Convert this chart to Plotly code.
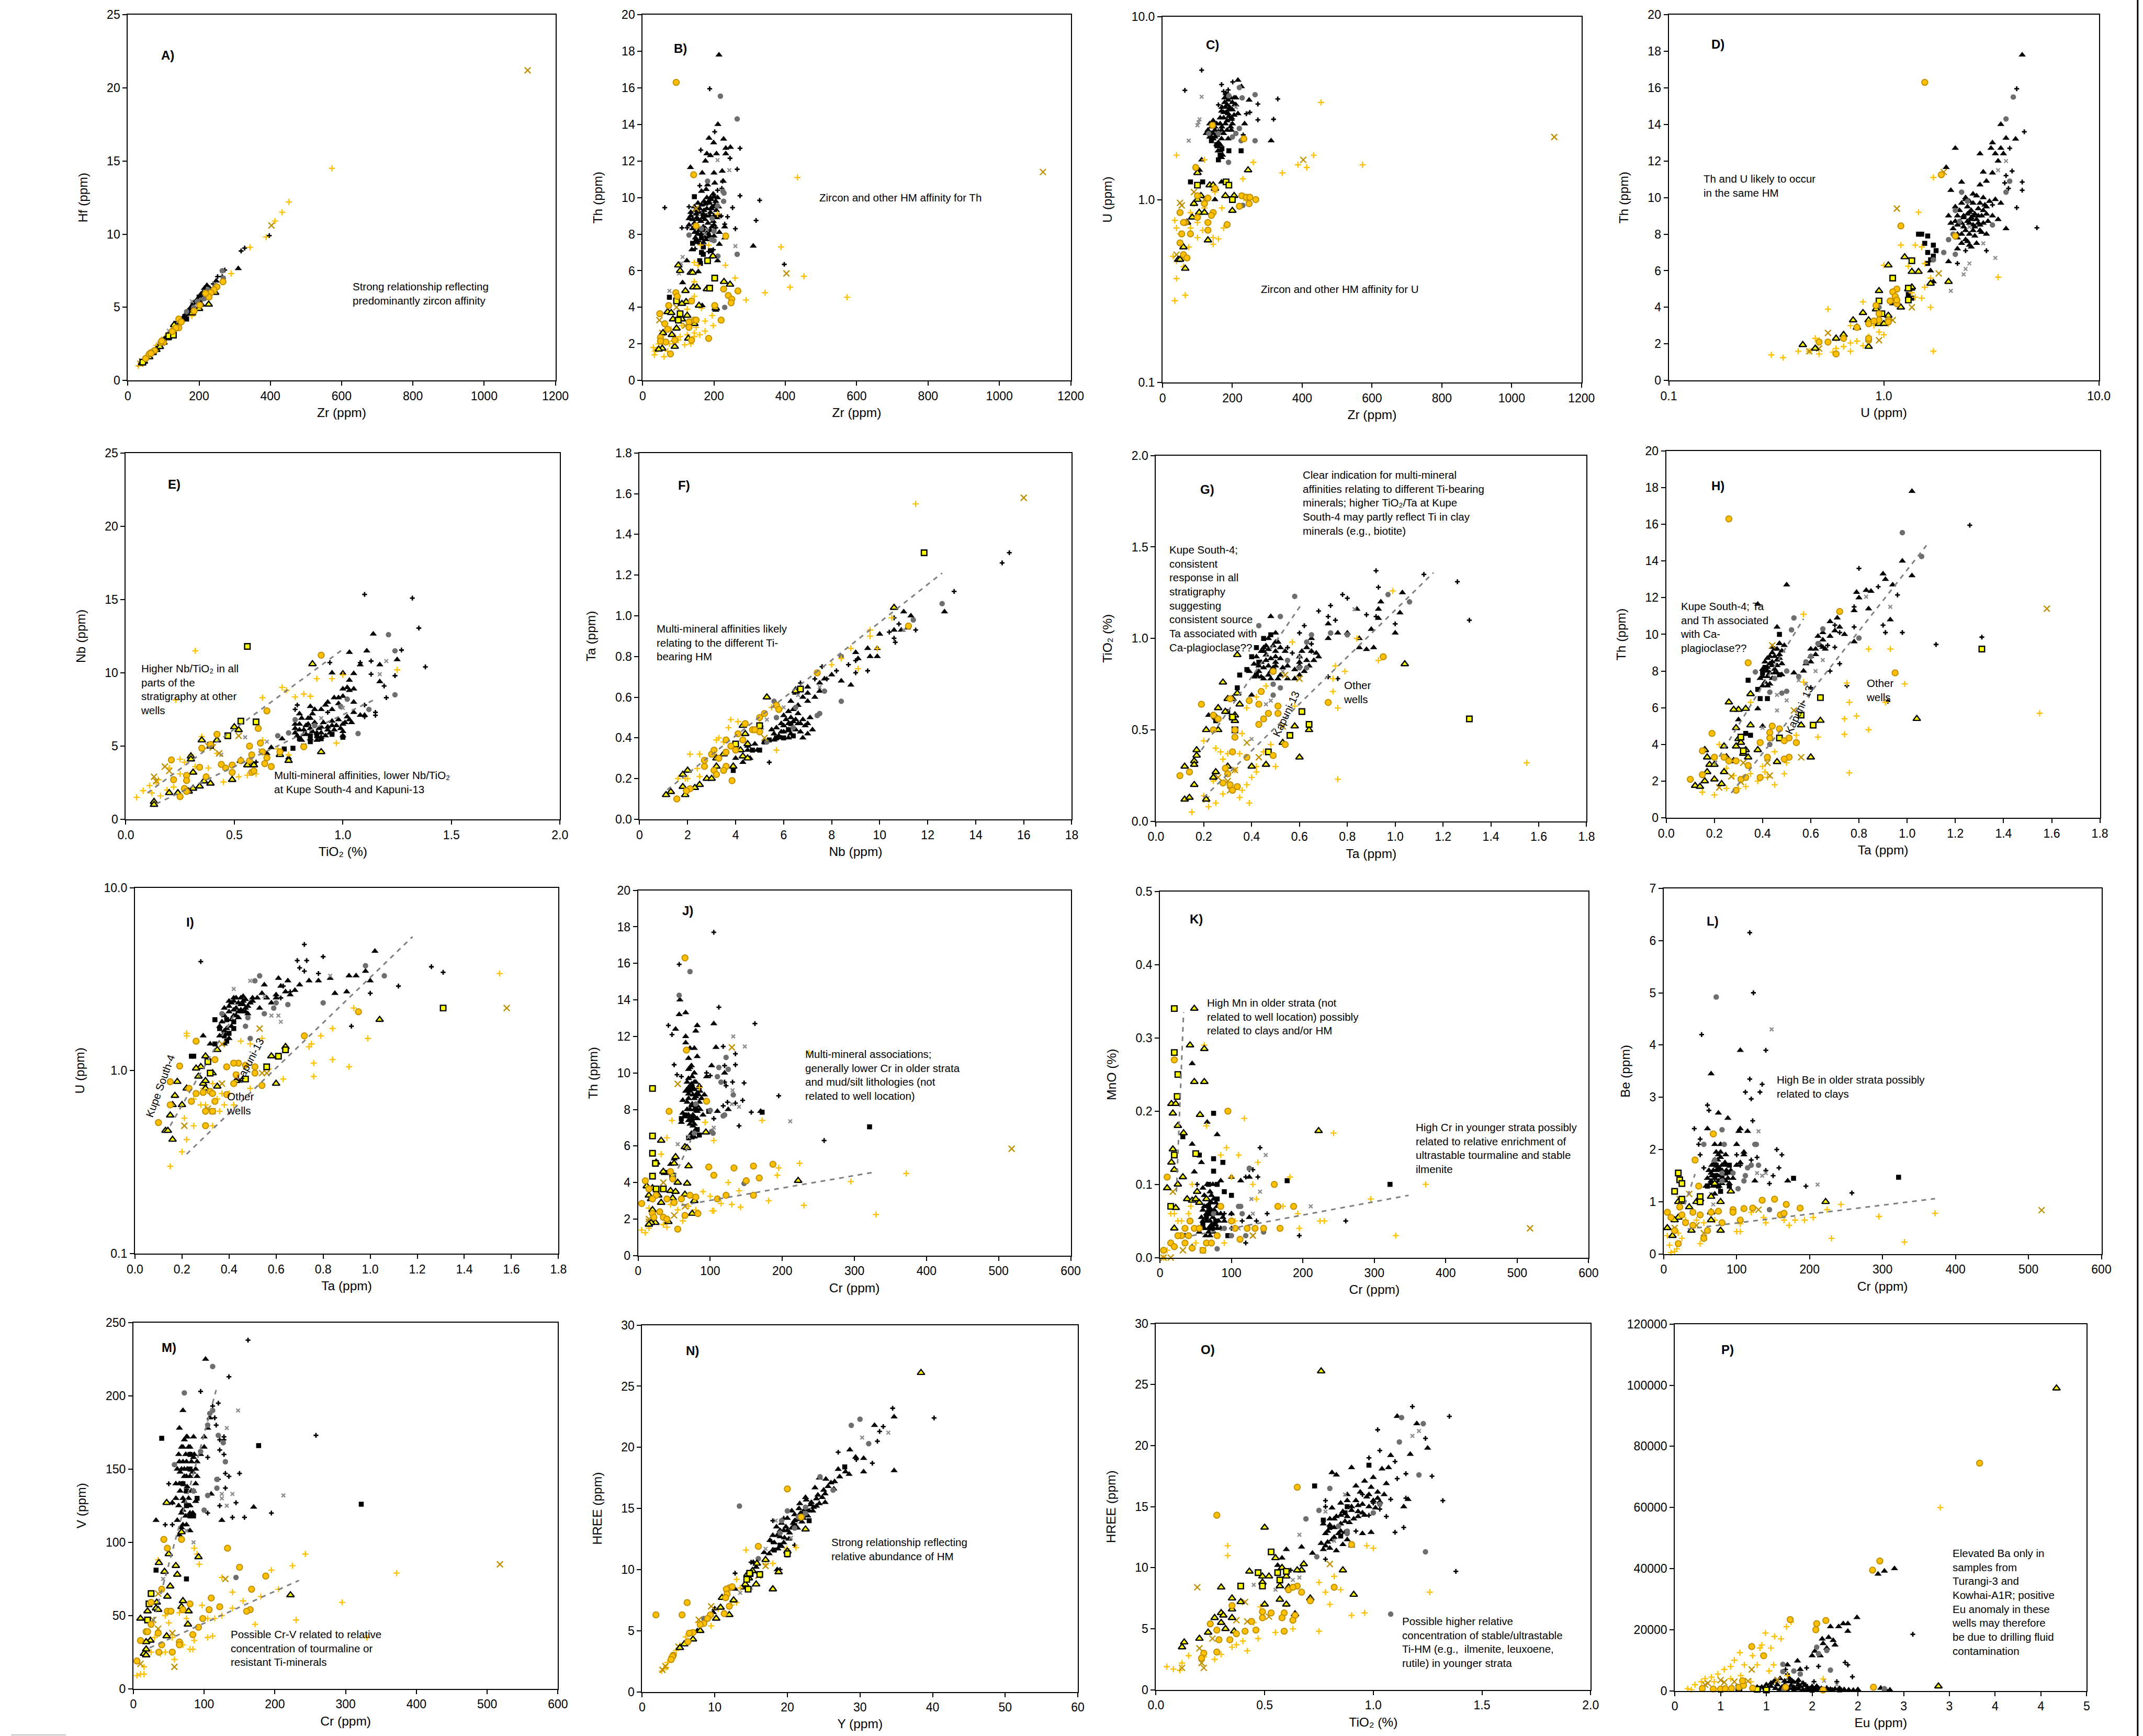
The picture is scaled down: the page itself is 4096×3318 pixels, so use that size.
import plotly.graph_objects as go

# ---------- values: (x, y) per panel and per series ----------
A_tri=[(310,7.65),(222,6.5),(248,6.8),(215,6.3),(205,5.9),(200,5.7),(190,5.4),(180,5.1),(170,4.8),(160,4.4),(150,4.1),(140,3.9),(130,3.6),(120,3.3),(110,3.0),(100,2.8),(90,2.5),(185,5.3),(175,4.9),(165,4.6),(155,4.3),(145,4.0),(135,3.8),(125,3.5),(195,5.5),(210,6.0),(230,6.3)]
A_tri2=[(85,2.35),(95,2.65),(105,2.9),(115,3.15),(125,3.4),(135,3.7),(145,4.05),(155,4.25),(165,4.5),(175,4.75),(185,5.05),(195,5.3),(205,5.6),(215,5.8),(225,6.1)]
A_sq=[(165,4.2),(135,3.9),(115,3.0),(85,2.3),(70,1.9),(200,5.7),(150,4.2)]
A_pl=[(397,9.9),(328,9.05),(318,8.85),(272,7.55),(252,7.1),(265,7.1),(180,5.0),(160,4.5),(240,6.6)]
A_gc=[(265,7.5),(268,7.0),(215,5.6),(205,5.5),(195,5.4),(185,5.0),(165,4.7),(225,6.2)]
A_gx=[(180,5.4),(115,3.4),(140,4.0),(245,6.6)]
A_op=[(573,14.5),(452,12.2),(433,11.5),(413,10.9),(388,9.8),(343,9.1),(290,7.3),(30,1.0),(50,1.6),(80,2.4),(110,3.1),(180,4.4),(60,1.8),(95,2.8),(38,1.2)]
A_dx=[(1122,21.2),(403,10.6),(40,1.3),(35,1.15)]
A_yt=[(227,5.2),(245,6.0),(205,5.2),(180,4.6),(125,3.1),(130,3.8),(112,2.9),(100,2.6),(80,2.1),(60,1.6),(45,1.3),(40,1.2),(90,2.3),(70,1.9),(200,4.9)]
A_ys=[(42,1.25),(115,3.05),(128,3.1)]
A_oc=[(267,6.75),(250,6.4),(242,6.2),(233,6.0),(228,5.7),(218,5.95),(202,5.15),(186,4.75),(143,4.2),(150,4.0),(143,3.6),(130,3.5),(135,3.6),(125,3.35),(100,2.6),(93,2.6),(75,2.05),(65,1.9),(60,1.8),(50,1.5),(95,2.7),(65,1.85)]

B_tri=[(214,17.8),(211,14.0),(186,13.25),(227,13.2),(199,13.0),(233,12.7),(246,12.75),(180,12.4),(190,12.3),(207,12.4),(233,12.4),(176,12.0),(134,11.65),(167,11.35),(200,11.35),(223,11.45),(226,10.9),(202,10.8),(182,10.7),(178,10.45),(165,10.35),(200,10.05),(190,10.0),(210,10.0),(187,9.7),(175,9.65),(145,9.5),(160,9.4),(180,9.4),(195,9.5),(207,9.3),(135,9.2),(150,9.1),(170,9.1),(190,9.2),(130,8.85),(155,8.8),(175,8.8),(200,9.0),(215,9.0),(145,8.6),(170,8.4),(230,8.4),(130,8.5),(190,8.2),(215,8.1),(230,7.8),(200,7.9),(155,8.0),(165,7.75),(170,7.55),(138,7.15),(215,7.45),(310,7.35),(124,6.55),(210,6.55),(156,5.95),(112,5.35),(167,4.1),(205,3.85)]
B_tri2=[(135,9.0),(140,8.8),(148,9.3),(152,8.9),(158,9.2),(163,8.7),(168,8.9),(172,9.3),(178,9.0),(183,8.6),(188,9.0),(193,9.4),(198,8.7),(203,9.6),(208,8.9),(140,8.3),(146,8.1),(152,8.4),(158,8.2),(164,8.0),(170,8.2),(176,8.3),(182,8.1),(188,7.9),(194,8.4),(200,8.5),(148,7.8),(155,7.6),(162,7.5),(172,7.9),(178,7.7),(185,9.8),(192,9.9),(198,10.2),(205,9.8),(180,10.0),(172,9.8),(165,9.6),(155,9.7),(213,9.5)]
B_sq=[(145,10.05),(180,7.9),(165,7.8),(150,7.6),(140,7.5),(170,7.3),(190,7.1),(165,7.0),(170,6.9),(160,6.55),(162,6.4),(75,4.55)]
B_pl=[(188,15.95),(202,13.6),(163,12.6),(273,12.7),(245,12.15),(265,11.55),(224,10.9),(160,10.65),(210,10.4),(222,10.5),(273,10.1),(62,9.45),(252,9.45),(328,9.85),(318,8.75),(220,9.0),(238,8.95),(230,8.55),(260,8.3),(110,8.35),(125,8.35),(205,8.35),(185,7.05),(198,7.15),(147,7.2),(397,6.35),(170,9.0),(130,9.5)]
B_gc=[(218,15.55),(265,14.3),(182,10.9),(225,10.35),(228,10.25),(227,9.8),(210,9.55),(195,8.85),(130,7.95),(165,8.3),(200,8.15),(193,7.7),(200,7.65),(196,6.8),(211,6.8),(265,6.9),(230,4.0)]
B_gx=[(210,12.05),(243,11.5),(260,7.35),(112,6.75),(108,6.4),(102,5.85),(75,4.9),(180,8.25),(175,8.0)]
B_op=[(434,11.1),(388,7.3),(452,5.7),(413,5.1),(343,4.8),(290,4.4),(573,4.55),(259,5.6),(232,6.3),(145,6.45),(155,6.3),(162,7.4),(185,7.4),(210,9.1),(145,5.4),(145,4.6),(125,3.9),(165,3.95),(195,3.55),(175,3.25),(198,3.0),(175,2.7),(145,2.6),(160,2.5),(145,2.4),(125,2.5),(105,2.4),(135,2.0),(118,1.95),(100,2.2),(85,2.15),(185,2.3),(150,2.9),(110,3.0),(75,2.0),(60,1.3),(33,1.4),(40,1.7),(30,1.8),(45,2.0),(35,1.6),(70,1.6),(55,2.1),(80,2.8),(90,2.4)]
B_dx=[(1122,11.4),(403,5.85),(150,9.4),(47,3.3),(95,4.0),(55,2.6),(120,3.0)]
B_yt=[(197,6.8),(100,6.3),(105,6.0),(135,5.9),(140,5.9),(228,5.4),(245,5.25),(120,4.9),(142,5.1),(152,5.1),(180,5.0),(158,4.1),(122,4.3),(110,4.2),(205,3.95),(70,3.75),(80,3.7),(125,3.55),(85,3.35),(100,3.4),(110,3.35),(95,2.85),(82,2.5),(57,2.6),(128,2.3),(90,1.85),(55,1.75),(45,1.7),(145,3.1)]
B_ys=[(182,6.55),(202,5.6),(188,5.05),(95,4.35),(105,3.65),(100,3.3)]
B_oc=[(94,16.3),(143,11.25),(150,8.45),(233,7.9),(227,5.0),(267,4.9),(240,4.65),(250,4.45),(248,4.25),(202,4.1),(137,4.35),(93,4.8),(97,4.6),(73,4.1),(48,3.65),(62,3.1),(130,3.2),(145,3.3),(150,3.3),(220,3.3),(130,2.9),(70,2.8),(50,2.35),(185,2.3),(137,2.2),(90,2.2),(65,2.1),(50,2.15),(78,1.45)]

C_tri=[(216,4.5),(226,4.15),(248,3.5),(188,3.75),(178,3.4),(207,3.3),(169,3.05),(188,2.95),(216,2.95),(197,2.75),(235,2.6),(150,2.5),(131,2.35),(169,2.4),(197,2.4),(140,2.2),(169,2.15),(311,2.1),(188,2.15),(159,1.85),(112,1.65),(169,1.7),(106,1.45),(169,1.25),(150,1.0),(112,1.05),(180,3.2),(190,3.1),(200,3.4),(165,2.6),(175,2.8),(145,2.3),(155,2.25),(185,2.7),(210,3.6),(195,2.5),(140,2.5),(160,2.05),(200,2.6)]
C_tri2=[(130,2.4),(135,2.6),(140,2.3),(145,2.7),(150,2.4),(155,2.6),(160,2.35),(165,2.8),(170,2.5),(175,3.0),(180,2.6),(185,3.3),(190,2.85),(195,3.6),(200,3.1),(205,2.9),(210,3.3),(145,2.15),(155,2.0),(165,2.0),(175,2.3),(185,2.4),(170,3.2),(178,3.6),(182,3.0),(192,3.2),(198,2.8),(150,2.2),(158,1.95),(165,1.85),(172,1.75),(135,2.2),(125,2.3),(205,3.6),(188,3.5),(182,3.8)]
C_sq=[(190,1.85),(170,1.9),(165,1.75),(160,1.65),(225,1.85),(115,1.25),(155,2.0),(140,2.1),(80,1.25)]
C_pl=[(112,5.1),(64,3.96),(169,4.26),(201,4.4),(188,3.98),(330,3.55),(273,3.33),(250,3.0),(273,2.73),(318,2.75),(231,2.26),(175,3.9),(160,3.3),(240,2.95)]
C_gc=[(220,4.1),(265,3.75),(228,3.6),(190,3.7),(220,2.45),(225,2.1),(210,2.3),(132,2.3),(200,2.2),(189,1.6),(230,0.93),(265,2.1),(160,2.3)]
C_gx=[(112,3.65),(106,2.75),(100,2.55),(75,2.1),(103,2.65),(210,3.2)]
C_op=[(454,3.4),(433,1.75),(573,1.55),(343,1.4),(388,1.55),(413,1.5),(40,1.75),(120,1.65),(260,1.6),(240,0.99),(230,1.3),(180,1.05),(35,0.77),(40,0.7),(175,0.7),(160,0.61),(40,0.46),(40,0.37),(60,0.43),(100,0.62),(145,0.62),(145,0.57),(30,0.49),(65,0.3),(35,0.28),(50,0.65),(80,0.7),(100,0.75),(115,0.68),(80,0.85),(150,1.1),(120,0.9),(60,0.48),(75,0.55),(90,0.95),(170,0.9)]
C_dx=[(1122,2.2),(403,1.65),(50,0.96),(40,0.5),(90,1.1),(120,1.0),(55,0.93)]
C_yt=[(100,1.4),(245,1.45),(135,1.2),(145,1.2),(205,1.05),(180,1.05),(110,1.05),(200,0.87),(150,1.15),(90,0.95),(105,0.85),(120,0.85),(85,0.8),(70,0.75),(130,0.6),(60,0.55),(45,0.47),(50,0.47),(65,0.42),(100,1.0)]
C_ys=[(182,1.25),(190,1.2),(100,1.2),(200,1.0)]
C_oc=[(143,2.55),(233,2.15),(95,1.5),(150,1.15),(227,1.05),(240,1.03),(250,1.03),(267,1.0),(248,0.95),(220,0.92),(130,1.02),(100,1.05),(145,0.85),(140,0.82),(130,0.75),(185,0.73),(50,0.85),(65,0.75),(130,0.68),(55,0.65),(80,0.65),(50,0.58),(60,0.5),(70,0.48),(60,0.75),(100,0.8),(120,0.95)]

D_tri=[(4.4,17.8),(3.5,14),(3.7,13.25),(4.1,13.2),(3.2,13.0),(2.15,12.7),(3.5,12.7),(3.15,12.7),(2.8,12.4),(3.3,12.4),(3.6,12.4),(3.4,12.0),(1.95,11.65),(2.9,11.4),(3.2,11.35),(2.3,10.85),(2.8,10.7),(3.0,10.9),(2.05,10.4),(2.4,10.0),(2.9,10.0),(3.3,9.9),(2.15,9.5),(2.6,9.7),(3.0,9.5),(3.5,9.7),(2.5,9.2),(2.9,9.3),(2.0,9.0),(2.2,9.0),(2.6,9.0),(3.2,9.0),(2.2,8.5),(2.5,8.6),(2.8,8.5),(3.4,8.8),(2.3,8.0),(2.6,8.2),(3.0,8.0),(3.7,8.3),(2.4,7.7),(2.7,7.5),(2.2,7.2),(2.5,7.4),(2.0,6.5),(1.65,6.0),(1.7,5.4),(1.35,5.0),(1.2,4.0),(1.1,4.2),(2.55,8.9),(2.35,8.4),(2.45,9.5),(2.75,9.0)]
D_tri2=[(2.1,8.3),(2.2,8.0),(2.3,8.6),(2.35,9.0),(2.4,8.2),(2.45,8.7),(2.5,8.0),(2.55,9.3),(2.6,8.5),(2.65,7.9),(2.7,8.8),(2.75,9.4),(2.8,8.2),(2.85,9.0),(2.9,8.6),(2.95,9.6),(3.0,9.1),(3.05,8.7),(3.1,9.8),(2.25,9.3),(2.3,9.7),(2.4,9.9),(2.5,9.8),(2.6,10.2),(2.7,10.1),(2.8,9.7),(2.2,7.8),(2.3,7.5),(2.45,7.6),(2.55,7.3),(2.65,8.4),(2.35,8.9),(2.45,9.1),(2.55,8.8),(2.65,9.1),(2.75,8.6),(2.85,8.1),(2.15,8.7),(2.05,8.6)]
D_sq=[(1.75,7.1),(1.5,8.0),(1.55,7.5),(1.6,7.0),(1.7,6.8),(1.65,6.6),(1.6,6.4),(1.7,7.4),(1.6,7.9),(1.45,8.0),(1.3,4.7),(1.35,4.5)]
D_pl=[(4.15,15.95),(4.5,13.6),(3.85,12.7),(3.95,11.45),(4.4,10.85),(3.7,11.2),(4.4,10.4),(3.65,10.8),(4.15,9.45),(5.15,8.35),(2.2,6.4),(3.0,7.1),(2.4,7.1),(3.8,10.5),(3.2,9.6)]
D_gc=[(4.0,15.5),(3.7,14.3),(3.85,10.9),(3.7,10.3),(2.3,10.3),(2.45,9.8),(2.15,9.3),(3.2,8.5),(2.1,8.0),(2.0,7.7),(1.9,7.0),(2.15,6.9),(2.25,8.7),(0.95,4.0),(1.7,6.6)]
D_gx=[(3.7,12.0),(3.4,11.5),(3.3,6.7),(2.5,6.4),(2.4,6.1),(2.35,5.8),(2.05,4.9),(2.9,7.5),(2.5,8.4)]
D_op=[(1.7,11.1),(1.45,9.2),(1.2,7.4),(1.4,7.4),(1.5,7.3),(1.0,6.3),(1.3,6.25),(1.55,6.4),(3.4,5.65),(1.65,5.6),(1.55,5.1),(1.35,4.8),(1.5,4.5),(1.4,4.55),(1.65,4.0),(0.55,3.9),(0.8,4.3),(1.7,1.6),(0.3,1.4),(0.34,1.25),(0.4,1.6),(0.45,1.6),(0.7,3.0),(0.95,2.65),(1.0,2.5),(0.85,2.4),(0.6,2.3),(0.5,2.2),(0.55,2.1),(0.7,2.05),(0.75,2.15),(0.65,1.85),(0.6,1.75),(0.7,1.6),(0.5,1.45),(0.8,1.9),(0.48,2.3),(0.58,1.55),(0.9,3.0),(1.05,3.1)]
D_dx=[(1.15,9.4),(1.9,11.4),(1.8,5.85),(1.35,4.0),(1.1,3.3),(0.5,1.75),(0.95,2.2),(0.45,1.6),(0.55,2.6)]
D_yt=[(1.25,6.75),(1.05,6.3),(1.35,5.95),(1.45,5.95),(1.35,5.1),(1.3,5.0),(2.0,5.4),(1.65,5.3),(0.95,4.9),(1.2,4.0),(1.1,4.3),(0.92,3.9),(0.8,3.7),(1.05,3.55),(0.85,3.3),(0.95,3.1),(1.0,3.1),(0.72,3.3),(0.75,2.9),(0.65,2.5),(0.6,2.3),(0.42,1.95),(0.48,1.75),(0.85,1.85)]
D_ys=[(1.35,6.55),(1.1,5.6),(1.3,4.4),(0.95,4.35),(0.98,3.65),(1.3,5.05)]
D_oc=[(1.55,16.3),(1.85,11.25),(1.2,8.45),(2.15,7.9),(1.15,5.0),(1.1,4.85),(1.13,4.6),(1.07,4.35),(1.15,4.2),(1.15,4.4),(0.92,4.1),(0.95,3.65),(0.85,3.1),(0.95,3.3),(1.05,3.3),(0.9,3.25),(1.05,3.2),(0.75,2.9),(0.85,2.2),(0.85,2.3),(0.5,2.1),(0.55,2.1),(0.65,2.3),(0.6,1.45)]

E_tri=[(1.14,12.65),(1.03,11.4),(1.11,11.5),(1.25,10.9),(1.17,10.55),(1.08,10.55),(1.0,10.0),(0.95,10.0),(1.05,9.95),(1.03,9.5),(1.17,9.4),(1.02,9.0),(1.05,8.9),(1.0,8.9),(0.98,8.3),(0.93,8.0),(0.98,7.9),(1.05,8.0),(0.85,7.7),(0.87,7.5),(0.8,7.2),(0.78,6.5),(0.83,6.4),(0.8,6.1),(0.85,6.2),(0.9,6.3),(0.95,6.4),(1.0,6.5),(0.78,5.9),(0.82,5.8),(0.88,5.9),(0.93,6.1),(1.03,6.8),(1.1,7.1),(1.0,6.0),(0.9,5.6),(0.72,5.5),(0.67,4.9),(0.65,4.5),(1.0,5.7),(0.85,6.9),(0.9,7.5),(0.95,7.5),(0.75,4.2)]
E_tri2=[(0.78,6.2),(0.79,5.7),(0.8,6.5),(0.81,5.4),(0.82,6.1),(0.83,5.8),(0.84,6.5),(0.85,5.5),(0.86,6.0),(0.87,6.6),(0.88,5.4),(0.89,6.2),(0.9,5.9),(0.91,6.6),(0.92,5.7),(0.93,6.3),(0.94,5.9),(0.95,6.7),(0.96,6.1),(0.97,6.4),(0.98,6.8),(0.99,6.2),(1.01,6.6),(1.02,7.0),(1.04,6.6),(1.05,7.3),(1.08,7.1),(0.86,7.2),(0.92,7.8),(0.96,8.3),(1.0,8.4),(1.03,8.8),(0.84,6.9),(0.81,6.9)]
E_sq=[(0.9,5.5),(0.85,5.3),(0.82,5.0),(0.77,4.85),(0.73,4.8),(1.0,5.6),(0.95,5.8),(0.88,5.7),(0.8,5.5),(0.85,5.7)]
E_pl=[(1.1,15.35),(1.32,15.1),(1.35,13.05),(1.27,11.55),(1.38,10.4),(1.24,9.8),(1.13,9.9),(1.13,10.8),(1.08,10.7),(1.2,8.3),(1.19,9.1),(0.94,10.7),(0.79,7.8),(0.78,7.5),(0.93,7.3),(1.1,7.8),(1.15,7.3),(1.15,7.1),(1.1,7.0),(0.6,3.9)]
E_gc=[(1.21,12.6),(1.24,11.5),(1.24,8.5),(1.12,7.5),(0.99,7.7),(1.02,8.2),(1.07,5.85),(0.75,5.9),(0.78,6.8),(0.7,5.7),(0.87,6.4)]
E_gx=[(1.17,9.9),(1.2,10.8),(0.55,5.6),(0.44,4.4),(0.65,5.3),(0.62,4.7),(1.0,7.6),(0.9,6.9)]
E_op=[(0.32,11.5),(0.23,8.15),(0.63,8.3),(0.72,9.0),(0.74,8.8),(0.78,8.35),(0.82,8.55),(0.85,8.4),(0.88,9.6),(0.95,9.6),(1.0,9.85),(1.25,10.2),(0.97,5.2),(0.35,5.65),(0.4,5.1),(0.42,4.5),(0.3,4.4),(0.25,4.1),(0.27,3.9),(0.2,3.5),(0.32,3.6),(0.38,3.5),(0.25,3.1),(0.15,2.7),(0.11,2.3),(0.12,1.8),(0.08,1.95),(0.05,1.5),(0.16,1.6),(0.19,2.0),(0.22,2.2),(0.45,2.55),(0.52,2.9),(0.6,3.1),(0.56,3.0),(0.7,4.8),(0.75,4.4),(0.63,5.4),(0.14,2.5)]
E_dx=[(0.13,2.9),(0.2,3.3),(0.38,5.0),(0.4,4.9),(0.52,5.7),(0.18,3.6),(0.14,2.6),(0.43,4.5)]
E_yt=[(0.86,10.6),(0.5,6.3),(0.52,6.1),(0.35,5.4),(0.42,5.4),(0.3,4.3),(0.3,4.1),(0.31,3.2),(0.9,4.6),(0.75,4.0),(0.71,4.4),(0.28,2.0),(0.34,2.25),(0.39,2.45),(0.36,2.6),(0.2,1.8),(0.24,1.8),(0.13,1.2),(0.13,1.0),(0.53,4.0),(0.57,3.9),(0.59,3.7),(0.56,3.7),(0.49,2.7),(0.31,2.1),(0.29,1.9)]
E_ys=[(0.56,11.8),(0.53,6.7),(0.6,6.65),(0.47,5.7),(0.39,5.05)]
E_oc=[(0.9,11.2),(0.65,7.4),(0.61,6.2),(0.42,5.8),(0.35,4.85),(0.39,5.1),(0.62,5.2),(0.57,5.0),(0.57,4.0),(0.53,4.0),(0.58,4.4),(0.63,4.6),(0.71,4.6),(0.82,4.95),(0.21,4.05),(0.34,3.55),(0.44,3.75),(0.46,3.5),(0.49,3.7),(0.49,3.2),(0.58,3.2),(0.59,3.3),(0.64,3.8),(0.65,4.2),(0.67,3.6),(0.28,3.0),(0.22,2.7),(0.28,2.65),(0.37,2.9),(0.27,2.1),(0.28,1.9),(0.25,1.55)]

F_tri=[(12.7,1.02),(11,1.02),(11.3,1.0),(11.15,0.94),(10.9,0.93),(10.6,0.93),(10,0.91),(9.5,0.84),(9.9,0.84),(9.9,0.8),(9.1,0.79),(8.4,0.68),(8.8,0.66),(8.0,0.71),(7.7,0.69),(7.0,0.65),(7.5,0.63),(7.3,0.6),(7,0.58),(6.5,0.62),(6.3,0.58),(6.6,0.52),(7.1,0.5),(7.0,0.42),(6.8,0.4),(6.4,0.45),(6.2,0.47),(6.0,0.46),(6.5,0.49),(5.9,0.43),(6.2,0.4),(5.5,0.44),(5.2,0.38),(4.8,0.37),(4.5,0.34),(4.0,0.3),(6.7,0.47),(6.3,0.5),(7.0,0.47),(9.6,0.8),(9.0,0.82)]
F_tri2=[(5.6,0.42),(5.7,0.45),(5.8,0.41),(5.9,0.47),(6.0,0.43),(6.1,0.49),(6.2,0.44),(6.3,0.42),(6.4,0.48),(6.5,0.44),(6.6,0.47),(6.7,0.43),(6.8,0.49),(6.9,0.46),(7.2,0.44),(6.0,0.51),(6.2,0.53),(6.4,0.54),(6.6,0.56),(6.8,0.6),(6.5,0.64),(6.7,0.64),(7.0,0.62),(7.5,0.67),(5.9,0.4),(5.6,0.39),(4.9,0.34),(4.6,0.3),(4.3,0.28),(4.5,0.36)]
F_sq=[(6.4,0.41),(6.0,0.4),(5.4,0.39),(5.2,0.38),(5,0.34),(4.7,0.34),(3.9,0.24),(6.2,0.44),(5.7,0.4),(6.3,0.47)]
F_pl=[(15.4,1.31),(15.1,1.26),(13.1,1.12),(10.6,0.99),(10.8,0.96),(11.5,0.93),(10.6,0.89),(10.4,0.92),(9.0,0.78),(9.0,0.72),(9.5,0.73),(7.6,0.75),(8.2,0.73),(5.4,0.28),(8.7,0.76),(7.3,0.69),(7.8,0.69),(6.7,0.67),(10.65,0.87)]
F_gc=[(12.6,1.06),(11.4,0.98),(8.4,0.58),(7.5,0.52),(7.4,0.51),(8.4,0.8),(6.5,0.55),(5.3,0.38),(5.7,0.5),(6.4,0.45),(5.6,0.58),(7.7,0.63)]
F_gx=[(11,0.93),(6.6,0.61),(5.3,0.49),(6,0.55),(7.5,0.65),(5.1,0.45)]
F_op=[(11.5,1.55),(10.5,0.99),(9.6,0.93),(9.6,0.9),(8.8,0.84),(9.9,0.84),(8.4,0.79),(8.0,0.76),(9.1,0.74),(3.8,0.49),(4.1,0.48),(3.7,0.45),(3.3,0.4),(2.5,0.32),(2.1,0.32),(5.5,0.55),(5.0,0.47),(5.7,0.34),(3.1,0.32),(2.0,0.2),(1.9,0.2),(1.6,0.2),(2.4,0.25),(2.5,0.21),(3.2,0.39),(3.5,0.38)]
F_dx=[(16,1.58),(5.2,0.4)]
F_yt=[(10.6,1.04),(6.5,0.63),(5.3,0.6),(4.3,0.46),(4.4,0.42),(4.5,0.37),(4.2,0.34),(3.5,0.32),(4.3,0.31),(4.5,0.3),(3.2,0.26),(3.9,0.26),(2.8,0.2),(3.0,0.2),(2.5,0.17),(2.0,0.24),(1.8,0.22),(1.8,0.16),(1.3,0.135),(1.1,0.12),(1.9,0.12),(2.3,0.155),(3.2,0.3)]
F_ys=[(11.85,1.31),(6.7,0.64),(5.0,0.46),(4.0,0.37)]
F_oc=[(11.2,0.95),(7.4,0.72),(5.7,0.56),(5.8,0.54),(5.2,0.52),(5.0,0.5),(4.4,0.47),(5,0.43),(4.7,0.44),(4.1,0.42),(4.3,0.39),(3.6,0.39),(4.8,0.44),(4,0.34),(3.6,0.33),(3.0,0.32),(3.1,0.34),(3.3,0.3),(2.7,0.29),(3.8,0.36),(2.7,0.26),(3.6,0.26),(3.1,0.24),(3.5,0.24),(3.2,0.22),(3.85,0.19),(2.1,0.15),(1.95,0.14),(1.55,0.1)]

G_tri=[(1.03,1.25),(0.94,1.2),(0.84,1.16),(0.93,1.16),(1.02,1.14),(0.48,1.12),(0.93,1.11),(0.72,1.08),(0.85,1.0),(0.9,1.05),(1.0,1.03),(0.8,1.03),(0.76,1.03),(0.72,1.0),(0.65,1.0),(0.63,0.95),(0.6,0.9),(0.67,0.92),(0.63,0.88),(0.6,0.85),(0.58,0.83),(0.55,0.78),(0.6,0.8),(0.5,0.98),(0.47,1.0),(0.52,0.95),(0.45,0.93),(0.5,0.9),(0.46,0.88),(0.43,0.85),(0.48,0.82),(0.52,0.8),(0.42,0.8),(0.47,0.8),(0.45,0.78),(0.5,0.85),(0.55,0.85),(0.45,0.95),(0.5,1.03),(0.85,0.95),(0.91,0.95),(0.88,0.94),(0.4,0.69),(0.22,0.58)]
G_tri2=[(0.39,0.82),(0.41,0.86),(0.42,0.9),(0.43,0.82),(0.44,0.93),(0.44,0.87),(0.45,0.84),(0.46,0.96),(0.46,0.91),(0.47,0.85),(0.47,0.94),(0.48,0.89),(0.49,0.96),(0.49,0.84),(0.5,0.93),(0.5,0.87),(0.51,0.98),(0.52,0.89),(0.53,0.84),(0.54,0.93),(0.41,0.79),(0.44,0.79),(0.48,0.78),(0.51,0.78),(0.6,0.87),(0.62,0.82),(0.64,0.85),(0.66,0.88),(0.68,0.9),(0.58,0.78),(0.61,0.93),(0.65,0.93)]
G_sq=[(0.48,1.02),(0.45,1.0),(0.42,0.95),(0.4,0.9),(0.38,0.83),(0.35,0.8),(0.34,0.73),(0.42,0.8),(0.43,0.87),(0.25,0.55),(0.3,0.6)]
G_pl=[(0.92,1.37),(0.93,1.28),(1.12,1.35),(1.26,1.31),(1.31,1.1),(0.78,1.24),(0.8,1.22),(0.73,1.18),(0.68,1.15),(0.88,1.13),(0.92,1.12),(1.0,1.08),(0.72,1.12),(0.75,1.1),(0.62,1.07),(0.6,1.03),(0.65,0.97),(0.65,0.93),(0.55,0.95),(0.57,0.92),(0.72,0.79),(0.76,0.78),(0.6,0.9)]
G_gc=[(0.58,1.23),(0.43,1.07),(0.52,1.12),(0.65,1.02),(0.63,0.98),(0.73,1.03),(0.8,1.02),(0.97,1.24),(1.06,1.2),(0.55,0.88),(0.6,0.84),(0.49,0.75),(0.52,0.73),(0.49,0.69),(0.63,0.84)]
G_gx=[(0.83,1.16),(0.48,0.66),(0.46,0.64),(0.31,0.57),(0.4,0.45),(0.6,0.9),(0.53,0.82)]
G_op=[(0.99,1.26),(0.84,1.0),(0.57,0.98),(0.75,0.85),(0.79,0.82),(0.74,0.78),(0.74,0.71),(0.93,0.88),(0.58,0.63),(0.76,0.62),(1.55,0.32),(0.76,0.23),(0.42,0.68),(0.46,0.74),(0.38,0.62),(0.36,0.48),(0.2,0.44),(0.25,0.4),(0.27,0.38),(0.28,0.34),(0.35,0.37),(0.45,0.38),(0.48,0.42),(0.42,0.3),(0.5,0.3),(0.4,0.24),(0.38,0.2),(0.36,0.17),(0.24,0.22),(0.2,0.14),(0.22,0.08),(0.25,0.1),(0.15,0.05),(0.39,0.1),(0.35,0.13),(0.42,0.27),(0.3,0.37),(0.33,0.28),(0.28,0.15)]
G_dx=[(0.53,0.52),(0.54,0.8),(0.38,0.43),(0.43,0.35),(0.3,0.22),(0.31,0.17),(0.21,0.12),(0.26,0.24),(0.33,0.28),(0.6,0.78)]
G_yt=[(1.04,0.86),(0.34,0.91),(0.28,0.76),(0.34,0.7),(0.3,0.67),(0.32,0.67),(0.35,0.64),(0.26,0.62),(0.29,0.6),(0.58,0.52),(0.64,0.5),(0.33,0.58),(0.25,0.57),(0.33,0.55),(0.21,0.5),(0.26,0.5),(0.17,0.39),(0.17,0.36),(0.16,0.33),(0.16,0.31),(0.12,0.3),(0.6,0.35),(0.53,0.43),(0.3,0.3),(0.4,0.3),(0.46,0.31),(0.25,0.27),(0.24,0.24),(0.16,0.2),(0.12,0.12),(0.14,0.13),(0.21,0.12)]
G_ys=[(1.31,0.56),(0.61,0.6),(0.32,0.57),(0.64,0.53),(0.56,0.47),(0.33,0.5),(0.47,0.38)]
G_oc=[(0.95,0.9),(0.49,0.82),(0.44,0.71),(0.31,0.67),(0.39,0.66),(0.19,0.64),(0.43,0.64),(0.51,0.63),(0.72,0.65),(0.51,0.59),(0.47,0.59),(0.45,0.56),(0.43,0.53),(0.24,0.58),(0.26,0.56),(0.24,0.5),(0.33,0.5),(0.33,0.46),(0.32,0.38),(0.54,0.42),(0.38,0.35),(0.49,0.36),(0.29,0.29),(0.3,0.26),(0.1,0.25),(0.14,0.27),(0.28,0.21),(0.34,0.19),(0.32,0.17),(0.31,0.2)]

H_tri=[(1.02,17.8),(0.98,14.0),(1.02,13.2),(0.5,12.7),(0.9,13.3),(0.91,13.0),(0.94,12.7),(0.83,12.4),(0.85,12.35),(0.79,12.3),(0.8,12.0),(0.38,11.65),(0.84,11.4),(0.78,11.3),(0.93,10.8),(0.71,10.9),(0.68,10.7),(0.46,10.4),(0.65,10.1),(0.78,9.6),(0.65,9.3),(0.6,9.2),(0.47,9.5),(0.45,9.2),(0.44,9.0),(0.42,8.7),(0.47,8.9),(0.46,8.6),(0.44,8.3),(0.42,8.0),(0.4,7.7),(0.46,7.9),(0.48,7.8),(0.53,7.9),(0.57,8.0),(0.6,8.8),(0.62,9.2),(0.43,7.3),(0.38,5.95),(0.3,5.35),(0.4,5.0),(0.65,9.7),(0.63,9.9),(0.43,8.4),(0.45,8.1),(0.42,7.7)]
H_tri2=[(0.39,7.6),(0.4,8.1),(0.41,7.4),(0.41,8.5),(0.42,8.2),(0.43,7.9),(0.43,8.8),(0.44,8.5),(0.44,7.6),(0.45,8.8),(0.45,7.9),(0.46,9.2),(0.46,8.3),(0.47,9.5),(0.47,8.7),(0.48,9.1),(0.48,8.4),(0.49,9.4),(0.44,9.3),(0.42,7.2),(0.4,7.2),(0.58,8.4),(0.6,8.5),(0.62,8.9),(0.64,9.4),(0.66,9.2),(0.68,9.9),(0.7,10.2),(0.72,10.4),(0.74,10.0)]
H_sq=[(0.34,7.5),(0.38,7.0),(0.39,6.5),(0.42,6.5),(0.47,7.8),(0.47,10.0),(0.4,7.9),(0.41,8.2),(0.33,4.6),(0.35,4.5)]
H_pl=[(1.26,15.95),(0.8,13.6),(1.12,9.45),(1.31,9.85),(0.96,12.15),(0.88,12.6),(0.98,10.1),(0.9,10.5),(0.91,10.1),(0.78,11.5),(0.72,8.4),(0.68,8.0),(0.6,7.1),(0.92,6.35),(0.75,7.2),(0.78,10.4),(0.72,10.1),(0.7,10.5),(0.67,9.4),(0.7,9.3)]
H_gc=[(0.98,15.55),(1.06,14.25),(0.53,10.9),(0.52,10.25),(0.65,10.3),(0.8,9.8),(0.63,9.5),(0.58,8.5),(0.6,8.8),(0.37,7.95),(0.45,7.6),(0.55,7.7),(0.5,6.9),(0.48,6.8),(0.43,6.85),(0.43,4.0),(0.5,8.0)]
H_gx=[(0.93,11.5),(0.83,12.05),(0.58,7.3),(0.55,7.5),(0.46,6.7),(0.5,6.4),(0.46,5.85),(0.4,4.9),(0.62,8.0),(0.65,8.6)]
H_op=[(0.57,11.1),(0.84,9.2),(0.93,9.2),(0.75,7.35),(0.99,7.3),(0.76,6.3),(0.91,6.3),(0.74,5.4),(0.79,5.55),(0.84,4.8),(0.74,4.55),(0.63,4.4),(0.54,4.5),(0.76,2.45),(1.55,5.7),(0.57,7.4),(0.35,6.3),(0.22,4.0),(0.5,3.0),(0.49,2.4),(0.25,2.7),(0.28,2.3),(0.35,2.4),(0.4,2.8),(0.41,2.5),(0.2,1.25),(0.15,1.4),(0.25,1.6),(0.45,1.8),(0.38,2.0),(0.33,1.7),(0.3,1.6),(0.42,2.2),(0.45,3.6)]
H_dx=[(1.58,11.4),(0.44,9.4),(0.53,5.85),(0.56,3.3),(0.42,3.0),(0.43,2.3),(0.31,1.95),(0.22,1.65),(0.32,3.0),(0.27,2.25)]
H_yt=[(1.04,5.4),(0.64,5.3),(0.6,3.3),(0.35,6.75),(0.26,6.3),(0.33,5.95),(0.3,5.9),(0.28,5.9),(0.35,5.05),(0.56,5.05),(0.29,4.9),(0.3,4.3),(0.31,4.1),(0.29,3.9),(0.33,3.7),(0.38,3.7),(0.24,3.9),(0.16,3.7),(0.17,3.3),(0.18,2.9),(0.2,2.9),(0.32,3.5),(0.34,3.3),(0.25,3.3),(0.28,3.1),(0.24,2.5),(0.17,2.5),(0.16,2.0),(0.2,2.1),(0.23,1.85),(0.12,1.75),(0.14,1.7),(0.46,3.05)]
H_ys=[(1.31,9.2),(0.64,6.55),(0.56,5.6),(0.61,5.05),(0.47,4.35),(0.31,4.4),(0.32,3.65)]
H_oc=[(0.26,16.3),(0.72,11.25),(0.34,8.45),(0.95,7.9),(0.44,5.0),(0.47,4.85),(0.43,4.65),(0.19,4.6),(0.43,4.35),(0.49,4.2),(0.51,4.35),(0.54,4.1),(0.39,4.1),(0.15,3.65),(0.42,3.3),(0.51,3.3),(0.49,3.2),(0.2,3.3),(0.24,3.3),(0.29,3.1),(0.34,2.85),(0.26,3.1),(0.15,2.35),(0.39,2.2),(0.33,2.2),(0.1,2.1),(0.31,2.1),(0.29,1.5)]

I_tri=[(1.02,4.5),(0.98,3.5),(0.94,3.3),(0.91,3.3),(1.0,3.1),(0.83,3.2),(0.78,3.1),(0.74,3.1),(0.7,2.95),(0.65,3.1),(0.61,3.2),(0.55,2.95),(0.54,2.65),(0.52,2.5),(0.9,2.7),(0.85,2.65),(0.47,2.45),(0.45,2.5),(0.42,2.5),(0.4,2.4),(0.43,2.2),(0.46,2.1),(0.48,2.25),(0.5,2.4),(0.4,2.1),(0.41,1.9),(0.42,2.0),(0.38,2.0),(0.36,1.75),(0.29,1.55),(0.38,1.4),(0.32,1.4),(0.38,1.6),(0.44,2.35),(0.46,2.4),(0.56,2.5),(0.6,2.6),(0.53,2.2)]
I_tri2=[(0.37,1.85),(0.38,2.2),(0.39,1.7),(0.4,2.25),(0.41,2.35),(0.41,1.75),(0.42,2.15),(0.42,2.4),(0.43,2.0),(0.43,2.5),(0.44,2.1),(0.44,1.95),(0.45,2.3),(0.45,2.15),(0.46,2.3),(0.46,2.55),(0.47,2.2),(0.47,2.1),(0.48,2.05),(0.49,2.35),(0.5,2.5),(0.38,1.65),(0.36,1.55),(0.4,1.5),(0.6,2.5),(0.62,2.9),(0.64,2.7),(0.66,2.6),(0.68,2.75),(0.58,2.35)]
I_sq=[(0.34,1.9),(0.39,1.9),(0.4,1.6),(0.38,1.55),(0.39,1.45),(0.42,1.85),(0.25,1.2),(0.24,1.2),(0.34,1.4),(0.36,1.7),(0.42,1.7)]
I_pl=[(0.28,3.95),(0.72,4.9),(0.69,4.0),(0.73,4.0),(0.8,4.2),(0.7,3.65),(0.72,3.5),(0.78,3.4),(1.26,3.7),(1.31,3.45),(1.12,2.9),(1.0,2.65),(0.92,1.75),(0.63,2.9),(0.66,2.7),(0.62,2.5)]
I_gc=[(0.53,3.3),(0.51,3.1),(1.06,3.3),(0.98,3.75),(0.65,2.3),(0.8,2.35),(0.55,2.05),(0.48,1.95),(0.37,2.05),(0.47,1.75),(0.49,1.5),(0.59,2.2),(0.6,2.35)]
I_gx=[(0.49,3.1),(0.83,3.3),(0.58,2.0),(0.61,2.0),(0.42,2.8),(0.55,2.55),(0.62,1.85)]
I_op=[(1.55,3.4),(0.93,2.2),(0.84,1.7),(0.99,1.5),(0.79,1.55),(0.74,1.35),(0.75,1.4),(0.76,1.1),(0.84,1.15),(0.91,1.05),(0.63,0.9),(0.76,0.93),(0.57,1.02),(0.22,1.6),(0.22,1.55),(0.45,1.45),(0.49,1.4),(0.54,1.5),(0.15,0.3),(0.2,0.36),(0.22,0.42),(0.35,0.7),(0.25,0.7),(0.2,0.65),(0.21,0.55),(0.33,0.5),(0.25,0.5),(0.3,0.65),(0.37,0.75),(0.42,0.65),(0.36,0.6),(0.29,0.8),(0.28,0.65),(0.33,0.85),(0.4,0.75),(0.49,0.8),(0.38,0.65)]
I_dx=[(1.58,2.2),(0.53,1.7),(0.37,1.4),(0.56,0.97),(0.21,0.5),(0.31,0.62),(0.33,0.6),(0.37,0.85),(0.54,0.97)]
I_yt=[(1.04,1.9),(0.64,1.35),(0.6,0.85),(0.58,1.2),(0.35,1.3),(0.3,1.2),(0.28,1.05),(0.26,1.03),(0.27,0.93),(0.43,0.88),(0.46,0.9),(0.35,0.82),(0.3,0.8),(0.18,0.87),(0.22,0.8),(0.17,0.73),(0.16,0.65),(0.2,0.65),(0.15,0.57),(0.13,0.47),(0.14,0.47),(0.16,0.42),(0.29,0.85),(0.3,0.88),(0.33,0.97)]
I_ys=[(1.31,2.2),(0.64,1.3),(0.61,1.2),(0.56,1.05),(0.47,0.9),(0.32,0.97),(0.31,1.12)]
I_oc=[(0.95,2.1),(0.72,1.55),(0.26,1.45),(0.19,1.06),(0.34,1.15),(0.44,1.1),(0.42,1.1),(0.47,1.07),(0.39,1.05),(0.51,1.05),(0.43,0.95),(0.51,0.97),(0.15,0.87),(0.42,0.85),(0.54,0.83),(0.39,0.74),(0.26,0.75),(0.29,0.76),(0.32,0.77),(0.33,0.75),(0.23,0.8),(0.34,0.68),(0.24,0.68),(0.15,0.65),(0.3,0.6),(0.33,0.6),(0.3,0.5),(0.1,0.52)]

J_tri=[(58,14.0),(57,13.2),(66,13.3),(105,12.7),(82,12.6),(52,12.4),(80,12.3),(66,12.0),(66,11.65),(108,11.4),(78,11.35),(72,11.35),(70,10.8),(82,10.9),(102,10.4),(72,10.3),(120,10.0),(95,9.8),(70,9.7),(78,9.5),(75,9.1),(85,9.3),(70,9.2),(82,8.9),(70,8.85),(92,8.8),(78,8.6),(68,8.4),(80,8.1),(72,8.0),(62,7.8),(70,7.7),(82,7.5),(90,7.7),(110,7.9),(125,8.0),(170,7.9),(78,7.2),(60,7.3),(75,8.3),(85,8.4),(50,5.3),(45,5.0),(75,9.8)]
J_tri2=[(62,8.5),(64,7.6),(66,9.0),(68,8.0),(68,9.5),(70,7.4),(70,8.6),(72,9.0),(72,7.6),(74,8.2),(74,9.4),(76,7.7),(76,8.8),(78,9.1),(78,8.0),(78,7.6),(80,8.7),(80,9.5),(82,8.2),(82,7.9),(84,8.8),(84,9.2),(86,8.0),(86,9.0),(88,8.6),(70,10.2),(74,10.4),(78,10.0),(72,7.2),(76,7.1),(80,6.9),(74,6.7),(78,6.5)]
J_sq=[(80,8.0),(65,7.7),(60,7.5),(75,7.4),(82,6.9),(75,6.5),(85,6.6),(70,6.45),(70,9.1),(172,7.85),(321,7.05),(98,7.9),(35,4.55),(40,4.55),(75,9.2)]
J_pl=[(105,17.7),(57,15.95),(112,13.6),(162,12.7),(42,12.6),(47,12.1),(118,11.45),(135,11.05),(135,10.45),(50,10.45),(54,9.9),(60,9.8),(120,9.5),(95,10.0),(100,9.85),(145,8.5),(124,8.4),(135,8.35),(147,9.45),(195,8.75),(157,7.85),(105,7.5),(140,7.1),(258,6.3),(120,10.4),(118,8.2),(122,9.3),(131,9.5)]
J_gc=[(57,14.25),(72,15.55),(122,10.85),(112,10.3),(125,10.2),(110,9.8),(115,9.5),(132,8.8),(118,7.65),(120,7.7),(100,7.95),(78,6.7),(102,6.8),(104,6.7),(147,3.95),(80,8.3)]
J_gx=[(132,12.0),(148,11.45),(131,9.05),(211,7.35),(140,8.15),(130,8.3),(55,6.1),(70,6.5),(105,7.0)]
J_op=[(237,11.1),(85,9.2),(47,7.4),(172,7.4),(93,7.3),(105,6.3),(40,6.45),(32,5.55),(224,5.05),(195,4.8),(193,4.4),(372,4.5),(295,4.05),(125,4.0),(140,3.55),(181,3.0),(230,2.75),(142,2.65),(130,2.8),(330,2.25),(100,3.25),(115,2.85),(105,2.45),(103,2.45),(80,2.5),(45,2.8),(20,1.8),(5,1.4),(10,1.25),(15,1.5),(35,1.7),(40,1.55),(62,1.9),(55,2.5),(70,2.7),(90,3.5),(15,2.6)]
J_dx=[(518,5.85),(130,11.4),(55,9.4),(35,4.0),(65,2.7),(15,2.0),(50,2.2),(15,1.85)]
J_yt=[(222,4.1),(32,6.3),(65,5.95),(68,5.9),(52,5.4),(25,5.1),(50,5.05),(70,4.9),(35,4.6),(55,4.0),(68,3.95),(12,3.8),(20,3.7),(45,3.55),(52,3.5),(65,3.35),(28,3.3),(15,3.3),(18,3.1),(32,2.9),(48,3.15),(78,3.0),(75,2.3),(20,2.5),(42,1.85),(24,1.8),(18,1.8),(15,1.7),(94,6.75)]
J_ys=[(20,9.15),(20,6.55),(20,5.6),(24,5.05),(20,4.35),(48,4.35),(25,3.65),(35,3.65)]
J_oc=[(65,16.3),(67,11.25),(95,8.45),(43,7.9),(98,4.85),(133,4.8),(160,4.9),(187,5.0),(45,4.6),(105,4.4),(150,4.1),(168,4.25),(48,4.2),(10,4.1),(15,3.65),(60,3.1),(25,3.3),(72,3.3),(80,3.2),(122,3.3),(110,3.1),(160,3.3),(20,3.1),(40,3.1),(50,2.9),(5,2.85),(30,2.4),(35,2.1),(20,2.3),(65,2.2),(83,2.3),(40,2.0),(55,1.45),(22,2.1)]

K_tri=[(62,0.285),(45,0.265),(66,0.185),(80,0.168),(45,0.155),(58,0.13),(48,0.117),(100,0.11),(85,0.105),(113,0.105),(125,0.11),(60,0.095),(70,0.09),(62,0.085),(75,0.08),(70,0.075),(65,0.07),(72,0.065),(65,0.06),(70,0.05),(60,0.05),(85,0.06),(75,0.045),(90,0.05),(100,0.06),(75,0.04),(60,0.04),(125,0.055),(45,0.015),(35,0.03),(80,0.07)]
K_tri2=[(55,0.035),(58,0.055),(60,0.065),(62,0.04),(62,0.07),(64,0.03),(65,0.05),(66,0.08),(68,0.04),(68,0.065),(70,0.03),(70,0.06),(72,0.075),(72,0.045),(74,0.055),(75,0.035),(76,0.065),(78,0.045),(78,0.075),(80,0.04),(80,0.06),(82,0.05),(84,0.07),(85,0.04),(88,0.055),(72,0.085),(66,0.1),(74,0.1),(68,0.035)]
K_sq=[(75,0.197),(32,0.165),(55,0.14),(88,0.13),(75,0.135),(75,0.118),(178,0.105),(322,0.1),(68,0.1),(80,0.1),(90,0.09),(100,0.085),(80,0.08),(70,0.06),(65,0.055),(78,0.05),(72,0.04),(60,0.045),(68,0.07),(95,0.03)]
K_pl=[(140,0.15),(130,0.12),(125,0.12),(137,0.11),(120,0.11),(52,0.1),(260,0.05),(150,0.06),(135,0.05),(115,0.05),(100,0.04),(195,0.03),(120,0.02),(100,0.06),(90,0.06)]
K_gc=[(125,0.122),(113,0.07),(110,0.07),(75,0.06),(115,0.06),(80,0.012),(145,0.035),(120,0.03),(90,0.04),(100,0.03)]
K_gx=[(148,0.14),(140,0.09),(128,0.08),(211,0.07),(130,0.06),(130,0.03),(110,0.04)]
K_op=[(62,0.29),(118,0.19),(65,0.18),(243,0.17),(93,0.15),(110,0.14),(85,0.14),(137,0.13),(182,0.11),(100,0.11),(372,0.1),(45,0.1),(130,0.1),(295,0.08),(135,0.08),(43,0.07),(172,0.07),(15,0.06),(20,0.06),(40,0.06),(193,0.06),(224,0.05),(230,0.05),(25,0.05),(30,0.05),(195,0.04),(330,0.03),(90,0.02),(50,0.02),(105,0.05),(5,0.0),(10,0.01),(42,0.03)]
K_dx=[(518,0.04),(18,0.09),(130,0.03),(35,0.03),(15,0.0),(5,0.0),(32,0.01),(60,0.01)]
K_yt=[(48,0.34),(42,0.29),(62,0.285),(48,0.24),(62,0.24),(16,0.21),(22,0.21),(18,0.197),(56,0.195),(25,0.18),(33,0.17),(222,0.173),(18,0.148),(16,0.13),(20,0.12),(32,0.11),(25,0.1),(10,0.095),(52,0.09),(38,0.08),(45,0.078),(55,0.075),(65,0.08),(22,0.068),(20,0.04),(50,0.08)]
K_ys=[(20,0.34),(20,0.28),(25,0.25),(24,0.22),(50,0.142),(20,0.14),(15,0.07)]
K_oc=[(95,0.2),(160,0.1),(165,0.07),(187,0.07),(85,0.07),(10,0.11),(20,0.27),(42,0.05),(100,0.05),(145,0.04),(168,0.04),(133,0.04),(122,0.04),(105,0.04),(48,0.04),(35,0.04),(55,0.04),(112,0.025),(30,0.03),(40,0.03),(65,0.02),(15,0.02),(20,0.015),(60,0.01),(45,0.013),(5,0.01),(35,0.02),(80,0.03),(72,0.02),(25,0.03)]

L_tri=[(105,3.9),(65,3.45),(75,2.7),(88,2.6),(60,2.4),(105,2.4),(103,2.35),(115,2.35),(70,2.1),(100,2.1),(78,2.1),(110,1.95),(75,1.9),(85,1.9),(110,1.9),(70,1.8),(85,1.7),(100,1.7),(75,1.6),(65,1.55),(90,1.55),(65,1.4),(75,1.4),(85,1.4),(95,1.45),(60,1.3),(70,1.3),(125,1.4),(170,1.4),(70,1.15),(105,1.75),(72,1.7),(80,1.6),(72,1.5),(80,1.45)]
L_tri2=[(58,1.3),(60,1.45),(62,1.6),(64,1.35),(66,1.5),(66,1.7),(68,1.3),(68,1.6),(70,1.45),(70,1.75),(72,1.35),(72,1.6),(74,1.5),(74,1.8),(76,1.3),(76,1.65),(78,1.5),(78,1.85),(80,1.35),(80,1.7),(82,1.55),(84,1.4),(84,1.75),(86,1.6),(88,1.45),(90,1.35),(92,1.6),(78,1.95),(72,1.95)]
L_sq=[(178,1.45),(322,1.47),(70,1.5),(80,1.45),(60,1.3),(75,1.3),(90,1.3),(78,1.2),(72,1.7),(90,1.7),(85,1.55)]
L_pl=[(118,6.15),(123,5.0),(52,4.2),(140,3.9),(118,3.35),(135,3.25),(112,3.1),(132,3.1),(120,2.97),(60,2.85),(62,2.75),(122,2.55),(42,2.4),(50,2.2),(48,2.1),(155,2.0),(162,1.9),(50,1.9),(120,1.8),(128,1.85),(158,1.65),(140,1.6),(150,1.5),(145,1.35),(195,1.3),(258,1.17),(100,1.9),(105,1.7),(55,1.65)]
L_gc=[(72,4.92),(80,2.38),(55,2.1),(83,2.1),(125,2.1),(127,2.1),(130,1.7),(115,1.65),(120,1.7),(80,1.55),(80,1.4),(112,1.5),(102,1.25),(110,1.4),(145,0.85),(70,1.8),(95,1.55)]
L_gx=[(148,4.3),(130,2.35),(128,1.55),(140,1.55),(135,1.5),(211,1.33),(65,1.15),(68,0.95)]
L_op=[(372,0.78),(295,0.72),(330,0.23),(230,0.3),(243,0.95),(224,0.85),(172,0.55),(193,0.65),(180,0.65),(165,0.65),(137,0.7),(140,0.6),(105,0.58),(100,0.43),(105,0.43),(50,0.2),(5,0.35),(8,0.17),(15,0.05),(10,0.03),(20,0.4),(30,0.65),(55,0.6),(45,0.65),(70,0.65),(120,0.8),(205,0.7),(25,0.3),(18,0.1),(40,0.5)]
L_dx=[(518,0.84),(130,0.85),(22,1.05),(45,0.55),(55,0.4),(35,1.15),(15,0.5)]
L_yt=[(222,1.0),(70,1.35),(78,1.0),(92,1.2),(20,1.0),(35,0.9),(45,1.0),(50,1.05),(65,1.1),(20,0.7),(65,0.65),(65,0.8),(5,0.5),(12,0.35),(38,0.45),(78,0.45),(15,0.65),(25,1.0)]
L_ys=[(20,1.55),(22,1.42),(25,1.35),(15,1.2),(50,1.1),(25,1.05),(50,1.0)]
L_oc=[(68,2.3),(43,1.8),(48,1.3),(135,1.03),(152,1.05),(168,0.95),(187,0.88),(160,0.75),(165,0.78),(110,0.87),(122,0.88),(95,0.85),(75,0.82),(65,0.8),(50,0.75),(40,0.8),(5,0.8),(22,0.9),(105,0.65),(95,0.8),(80,0.6),(60,0.45),(55,0.3),(10,0.7),(30,0.6),(20,0.2),(15,0.45),(25,0.75),(40,0.55)]

M_tri=[(102,225),(70,190),(108,185),(100,172),(65,178),(75,172),(85,172),(70,165),(100,165),(80,160),(65,155),(75,155),(85,158),(68,150),(75,145),(90,145),(65,140),(85,135),(110,133),(60,130),(70,130),(78,125),(55,127),(70,122),(80,120),(32,115),(125,115),(170,124),(70,112),(80,108),(105,178),(65,105),(80,165),(95,160),(72,150),(88,150),(75,135)]
M_tri2=[(60,140),(62,150),(64,125),(64,160),(66,135),(66,148),(68,120),(68,165),(70,140),(70,155),(72,128),(72,145),(74,160),(74,118),(76,150),(76,138),(78,130),(78,165),(80,145),(80,125),(82,155),(82,135),(84,148),(84,120),(86,160),(88,140),(88,128),(90,155),(72,170),(76,172),(62,115),(68,110),(75,112)]
M_sq=[(40,171),(177,166),(322,126),(90,130),(85,118),(80,118),(75,125),(70,140),(75,135),(80,150),(32,81),(75,75),(80,160)]
M_pl=[(162,238),(135,213),(95,203),(120,195),(112,193),(115,185),(117,180),(122,170),(128,172),(122,163),(128,160),(105,158),(130,147),(135,145),(150,147),(120,143),(130,137),(122,125),(145,127),(140,117),(157,117),(195,120),(258,173),(50,140),(55,127),(55,112),(45,112),(80,150),(105,120),(128,170)]
M_gc=[(112,220),(72,202),(112,190),(108,188),(120,173),(127,168),(95,162),(130,155),(58,153),(118,143),(118,137),(100,122),(85,135),(105,180),(145,76),(105,132)]
M_gx=[(148,190),(132,178),(125,133),(140,133),(212,132),(132,125),(125,130),(75,108),(85,100),(42,75)]
M_op=[(243,92),(225,84),(195,81),(125,76),(86,96),(90,92),(93,85),(35,88),(372,79),(295,59),(140,66),(155,60),(140,55),(205,68),(180,63),(97,57),(125,50),(172,44),(230,47),(330,35),(105,35),(112,36),(86,33),(80,27),(84,27),(58,20),(70,30),(50,45),(55,35),(45,50),(65,52),(75,48),(30,35),(15,15),(5,9),(10,10),(15,10),(25,25),(40,30),(38,24),(45,25),(105,48),(115,48)]
M_dx=[(518,85),(130,75),(55,38),(58,15),(28,47),(35,65),(10,17),(35,41)]
M_yt=[(222,64),(47,127),(68,107),(92,90),(50,92),(60,84),(44,80),(62,78),(52,70),(48,63),(70,60),(68,56),(78,53),(20,53),(10,48),(33,59),(32,55),(35,54),(77,44),(47,36),(24,33),(18,32),(18,27),(15,24),(18,23),(36,86)]
M_ys=[(25,65),(22,58),(20,47)]
M_oc=[(43,102),(68,102),(48,96),(133,96),(150,83),(187,77),(167,68),(110,62),(40,68),(25,59),(80,58),(48,53),(53,53),(70,54),(122,56),(107,54),(165,54),(160,53),(98,48),(92,42),(84,37),(35,38),(18,39),(20,39),(10,33),(40,30),(65,32),(65,30),(55,25),(36,25),(5,19),(25,44)]

N_tri=[(34.7,22.5),(32,21.8),(28.6,19.8),(29.4,19.2),(30.5,19.1),(27,18.2),(30.5,18.0),(34.7,18.1),(28.5,17.8),(24.4,17.5),(25.3,17.4),(26.5,17.2),(23.8,16.7),(25,16.5),(24.2,16.1),(22.5,15.9),(23.3,15.5),(21.7,15.4),(22.5,15.0),(24,15.2),(25.2,15.5),(23,14.8),(22,14.6),(21.3,14.1),(20.8,13.8),(19.8,13.5),(20.3,13.0),(19,12.7),(18,12.8),(19.5,12.2),(18.7,11.7),(17.5,11.3),(18.6,10.0),(18,8.5),(15.3,10.6),(15.7,10.2),(14,8.5),(12.8,8.4),(10,6.8),(9.8,6.5),(7.6,5.0),(22.2,14.2),(20,14.2),(21,14.5),(23.5,14.8),(18.5,13.5),(19.5,13.2)]
N_tri2=[(18.2,12.2),(18.6,12.8),(19,13.2),(19.2,11.9),(19.6,12.6),(20,13.2),(20.2,12.5),(20.6,13.4),(21,14.0),(21.4,13.4),(21.8,14.6),(22,13.9),(22.4,14.9),(22.8,14.4),(23.2,15.3),(23.6,15.1),(24,15.8),(24.4,15.4),(24.8,15.9),(25.2,16.2),(25.6,16.8),(26,17.1),(26.4,16.6),(27.2,17.6),(28,18),(17.6,12.4),(18,11.6),(16.8,11.4),(19.2,13.8),(20.6,14.8),(21.6,15.0),(22.6,15.7)]
N_sq=[(27.9,18.4),(23,14.0),(21,13.6),(19,12.0),(18.2,11.6),(20,11.2),(15,9.6)]
N_pl=[(34.5,23.2),(40.2,22.4),(33.2,21.7),(32.7,21.3),(32.4,20.5),(27,19.6),(29.5,19.0),(31.7,18.7),(19.5,14.2),(18,14),(19,10),(15,10.6),(12.8,9.7),(21,12.0),(17.8,12.3)]
N_gc=[(30,22.3),(28.8,21.8),(31.2,20.3),(24.5,17.6),(26.3,16.5),(13.4,15.2),(20,14.8),(22.5,15.1),(22.5,14.6),(19.2,14.0),(21,13.4),(19,13.0),(16,10.9),(21.5,14.3),(8.5,6.0)]
N_gx=[(33.9,21.2),(30.3,20.8),(18.4,14),(20.5,12.6),(17,11.7),(15,8.5),(13.5,8.1)]
N_op=[(21.2,11.8),(19.9,11.7),(14.3,11.6),(18,10.5),(17,10.4),(13,9.2),(13.5,8.5),(13,7.3),(12.3,7.1),(9.5,6.2),(9.5,5.4),(7.7,5.7),(6,4.5),(5.2,3.8),(4.7,3.4),(3.5,2.4),(3.3,2.0),(3,1.9),(2.7,1.7),(4,2.9),(10.5,6.8)]
N_dx=[(17,10.3),(9.5,7),(7.8,5.9),(3.2,2.1),(2.8,1.8),(5,3.7),(16,9.5)]
N_yt=[(38.4,26.1),(22.5,13.3),(20,11.5),(18.8,9.8),(18,8.4),(17,10.8),(15.8,10.5),(15.7,8.8),(15.2,9.9),(14.5,9.6),(14.7,9.3),(14.2,8.8),(12.6,7.5),(11,7.7),(12,6.3),(10.8,6.9),(10.2,6.0),(8,5.0),(7,4.3),(5.2,3.6),(5.8,3.9)]
N_ys=[(20,11.3),(16.2,9.6),(14.8,9.7),(14.4,9.2),(14.6,8.4)]
N_oc=[(20,16.6),(21.9,14.3),(16,11.9),(1.9,6.3),(6.2,7.3),(5.5,6.3),(12,8.5),(12.4,8.6),(11.6,8.4),(11.7,8.0),(11.5,7.7),(12,7.0),(11.3,6.4),(9.4,6.3),(9,6.0),(8.5,5.6),(8,5.5),(7,4.85),(6.5,4.8),(6.3,4.1),(4.3,3.0),(4.2,2.9),(4,2.65)]

O_tri=[(1.11,22.4),(1.2,21.8),(1.25,19.8),(1.08,19.2),(1.17,19.3),(0.9,18.2),(0.81,17.8),(0.83,17.6),(1.04,18.1),(1.07,18.2),(1.0,17.4),(0.96,17.1),(1.06,16.9),(0.92,16.7),(1.16,15.6),(1.14,15),(0.88,16),(0.98,16.0),(1.02,15.7),(0.93,15.1),(0.85,15.3),(0.9,14.7),(0.95,14.5),(0.85,14.3),(0.82,14.0),(0.87,13.8),(0.8,13.5),(0.85,13.0),(0.78,12.8),(0.82,12.5),(0.76,12.0),(0.8,11.6),(0.78,11.8),(0.9,11.8),(0.95,12.8),(0.99,12.9),(0.67,11.7),(0.72,11.2),(0.6,11.5),(0.58,10.8),(0.56,10.2),(0.88,15.5),(0.93,14.2),(0.88,12.3)]
O_tri2=[(0.79,13.0),(0.8,14.0),(0.81,12.3),(0.82,13.3),(0.83,14.2),(0.84,12.8),(0.85,13.6),(0.86,14.6),(0.87,12.9),(0.88,14.2),(0.89,13.7),(0.9,15.0),(0.91,14.0),(0.92,15.5),(0.93,14.6),(0.94,16.2),(0.95,15.2),(0.96,14.3),(0.97,15.8),(0.98,15.0),(0.99,16.6),(1.0,15.5),(1.01,14.9),(1.02,16.2),(1.03,15.4),(1.05,16.0),(0.77,11.5),(0.79,12.1),(0.83,11.4),(0.86,11.9),(0.81,14.9),(0.77,13.6)]
O_sq=[(0.98,18.4),(0.73,16.7),(0.88,15.0),(0.87,14.5),(0.77,13.9),(0.8,13.3),(0.85,12.6)]
O_pl=[(1.18,23.2),(1.35,22.4),(1.02,21.3),(1.24,20.6),(1.03,19.6),(0.98,19),(1.1,18.7),(1.15,17.7),(1.27,17.5),(1.11,17.3),(1.32,15.5),(1.15,15.7),(1.08,15.6),(0.95,16),(1.0,15.3),(0.78,15.5),(0.78,15),(1.03,14.8),(1.06,14.2),(1.14,13.3),(1.1,12.9),(0.98,14.3),(1.38,9.7),(0.78,10.7),(0.62,9.8),(0.92,13)]
O_gc=[(1.13,22.3),(1.23,21.8),(1.12,20.3),(1.21,17.6),(0.8,16.5),(1.03,15.2),(0.75,14.7),(0.69,14.0),(1.0,14.5),(0.88,12.8),(1.24,11.3),(0.74,10.9),(1.08,6.2),(0.84,13.4),(0.88,13.0)]
O_gx=[(1.21,21.2),(1.18,20.8),(0.87,16.0),(0.78,14.6),(0.66,12.7),(0.82,12.2),(0.66,9.2),(0.63,9.0),(0.45,8.6),(0.55,8.2)]
O_op=[(0.33,11.8),(0.33,11),(0.97,11.8),(1.0,11.6),(1.26,8),(0.9,6.1),(0.96,6.3),(0.75,4.8),(0.55,4.7),(0.63,5),(0.82,9.3),(0.75,8.8),(0.78,8),(0.85,8.2),(0.8,7),(0.6,7),(0.48,6.8),(0.45,5.5),(0.4,4),(0.35,3.5),(0.3,2.9),(0.22,2.7),(0.15,2.8),(0.12,2.2),(0.05,1.9),(0.08,1.7),(0.11,1.6),(0.27,2.5),(0.42,3.2),(0.47,4.2),(0.37,3.7)]
O_dx=[(0.19,8.4),(0.8,10.3),(0.41,7.2),(0.37,5.7),(0.42,5.6),(0.2,3.4),(0.22,1.8),(0.21,2.2),(0.12,1.8),(0.26,4.2),(0.52,6)]
O_yt=[(0.76,26.1),(0.5,13.3),(0.55,10.8),(0.58,10.0),(0.68,10.3),(0.86,9.8),(0.67,9.8),(0.65,9.8),(0.43,9.7),(0.52,9.3),(0.49,9.3),(0.6,9.3),(0.49,8.8),(0.91,7.8),(0.3,8.4),(0.61,8.4),(0.57,8.5),(0.71,7.5),(0.35,7.5),(0.39,7.2),(0.57,7.4),(0.35,6.6),(0.3,6.3),(0.31,6.1),(0.27,5.9),(0.35,5.9),(0.5,7.0),(0.6,7.0),(0.3,5.5),(0.32,5.0),(0.36,4.8),(0.24,4.7),(0.2,4.2),(0.13,3.9),(0.12,3.5),(0.64,6.2)]
O_ys=[(0.53,11.3),(0.47,9.6),(0.56,9.6),(0.6,9.7),(0.57,9.0),(0.39,8.5),(0.49,8.5)]
O_oc=[(0.65,16.6),(0.28,14.3),(0.9,11.9),(0.82,8.4),(0.65,8.5),(0.61,8.2),(0.67,8.0),(0.63,8.4),(0.71,7.3),(0.35,6.9),(0.49,6.4),(0.53,6.3),(0.59,6.3),(0.64,6.1),(0.58,5.9),(0.49,5.9),(0.63,5.7),(0.44,5.6),(0.41,4.8),(0.37,4.6),(0.46,4.9),(0.59,4.8),(0.25,5.4),(0.28,4.9),(0.34,4.1),(0.29,4.1),(0.22,3.0),(0.28,3.1),(0.21,2.6)]

P_tri=[(1.99,24000),(1.89,22000),(1.84,22000),(1.79,21000),(1.7,21000),(1.89,19500),(2.4,40000),(2.29,39200),(2.22,38200),(1.61,17000),(1.68,17500),(1.73,16500),(1.62,15500),(1.75,15000),(1.66,14000),(1.53,13000),(1.5,11500),(1.59,11500),(1.34,9800),(1.23,8500),(1.37,7000),(0.85,1000),(1.0,2000),(1.1,3500),(1.05,1500),(1.15,4000),(1.2,2000),(1.25,3000),(1.3,1200),(1.35,800),(1.4,2500),(1.45,1000),(1.5,600),(1.55,1500),(1.6,800),(1.7,500),(1.8,800),(1.9,300),(2.0,400),(2.3,500),(2.25,900),(2.35,300),(1.15,500),(1.25,800),(1.35,2000),(1.45,300),(1.28,3300),(1.0,600)]
P_tri2=[(0.9,300),(0.95,1200),(1.0,400),(1.05,2500),(1.1,800),(1.12,2000),(1.17,1200),(1.2,3200),(1.22,400),(1.27,1800),(1.3,2800),(1.33,600),(1.37,1500),(1.4,400),(1.42,1800),(1.47,700),(1.5,1400),(1.53,300),(1.57,900),(1.62,400),(1.66,800),(1.72,300),(1.75,600),(1.85,400),(1.95,200),(1.35,3500),(1.25,4200),(1.08,3000)]
P_sq=[(0.5,200),(1.0,300),(1.3,500),(1.5,200),(1.8,300),(1.55,500)]
P_pl=[(2.6,18500),(1.86,9300),(1.89,8500),(1.57,8000),(1.94,4600),(1.44,7500),(1.21,7000),(1.23,5500),(1.52,3000),(1.77,3000),(1.34,3000),(1.43,2000),(1.66,1000)]
P_gc=[(1.18,8700),(1.3,6500),(1.37,5500),(1.57,12200),(1.55,14300),(1.66,13200),(1.7,6800),(2.29,700),(1.18,6300),(1.19,500)]
P_gx=[(1.63,3300),(1.77,2000)]
P_op=[(2.9,60000),(1.22,21000),(1.27,22500),(0.99,18900),(1.09,17800),(1.16,17000),(0.95,15000),(0.93,14000),(0.71,12500),(0.65,10000),(0.61,8000),(0.76,8500),(0.9,8500),(1.03,6500),(1.08,8500),(1.05,14000),(0.85,11500),(0.54,7000),(0.47,5500),(0.4,4500),(0.29,3000),(0.22,2000),(0.14,700),(0.18,400),(0.33,4000),(0.43,3000),(0.61,4000),(0.72,5000),(0.83,3000),(1.23,5000),(1.62,3900)]
P_dx=[(0.84,7000),(0.36,2500),(0.5,3500),(0.65,3000),(0.8,3200),(1.12,3500),(0.33,2000),(0.54,2800)]
P_yt=[(4.17,99000),(2.88,1500),(1.0,1000),(0.9,800)]
P_ys=[(0.9,500),(0.7,900),(1.0,300)]
P_oc=[(3.33,74500),(2.24,42500),(2.16,39500),(1.26,23300),(1.65,23000),(1.55,22000),(1.54,20000),(0.84,14500),(0.97,11500),(2.17,1200),(1.21,1200),(1.62,300),(0.3,800),(0.42,600),(0.5,600),(0.55,700),(0.62,800),(0.7,1200),(0.75,1800),(0.74,3300),(0.85,900)]

# dashed guide lines (x, y) end points
E_lines=[[(0.1,1.8),(1.0,11.6)],[(0.14,1.05),(1.15,8.2)]]
F_lines=[[(1.15,0.145),(12.6,1.21)]]
G_lines=[[(0.19,0.39),(0.61,1.19)],[(0.2,0.13),(1.16,1.36)]]
H_lines=[[(0.2,2.9),(0.57,10.85)],[(0.27,1.35),(1.08,14.85)]]
I_lines=[[(0.15,0.5),(0.42,2.0)],[(0.22,0.35),(1.18,5.4)]]
J_lines=[[(50,4.3),(73,6.3)],[(60,2.75),(325,4.55)]]
K_lines=[[(23,0.09),(33,0.335)],[(45,0.03),(348,0.085)]]
L_lines=[[(29,0.95),(43,1.53)],[(33,0.48),(372,1.06)]]
M_lines=[[(28,46),(117,204)],[(23,28),(234,74)]]

W, H = 4096, 3318
REFW, REFH = 4225, 3422
FONT = "Liberation Sans"

# panel: frame box in reference pixels (left, right, top, bottom)
BOX = {'A':(252,1095,29,750),'B':(1267,2111,29,750),'C':(2292,3118,33,754),'D':(3290,4138,29,750),
       'E':(248,1104,893,1615),'F':(1261,2113,893,1615),'G':(2279,3128,898,1619),'H':(3285,4140,889,1612),
       'I':(266,1101,1750,2471),'J':(1258,2111,1755,2475),'K':(2287,3132,1757,2479),'L':(3280,4143,1751,2472),
       'M':(263,1100,2607,3329),'N':(1266,2125,2612,3335),'O':(2279,3136,2609,3331),'P':(3302,4114,2610,3333)}
TI = "TiO₂ (%)"
TITLES = {'A':("Zr (ppm)","Hf (ppm)"),'B':("Zr (ppm)","Th (ppm)"),'C':("Zr (ppm)","U (ppm)"),'D':("U (ppm)","Th (ppm)"),
          'E':(TI,"Nb (ppm)"),'F':("Nb (ppm)","Ta (ppm)"),'G':("Ta (ppm)",TI),'H':("Ta (ppm)","Th (ppm)"),
          'I':("Ta (ppm)","U (ppm)"),'J':("Cr (ppm)","Th (ppm)"),'K':("Cr (ppm)","MnO (%)"),'L':("Cr (ppm)","Be (ppm)"),
          'M':("Cr (ppm)","V (ppm)"),'N':("Y (ppm)","HREE (ppm)"),'O':(TI,"HREE (ppm)"),'P':("Eu (ppm)","")}
LOG = ("log",)
Z=(0,1200,200,"d"); TA=(0,1.8,0.2,".1f"); CR=(0,600,100,"d"); TO=(0,2,0.5,".1f")
AXES = {'A':(Z,(0,25,5,"d")),'B':(Z,(0,20,2,"d")),'C':(Z,LOG),'D':(LOG,(0,20,2,"d")),
        'E':(TO,(0,25,5,"d")),'F':((0,18,2,"d"),(0,1.8,0.2,".1f")),'G':(TA,TO),'H':(TA,(0,20,2,"d")),
        'I':(TA,LOG),'J':(CR,(0,20,2,"d")),'K':(CR,(0,0.5,0.1,".1f")),'L':(CR,(0,7,1,"d")),
        'M':(CR,(0,250,50,"d")),'N':((0,60,10,"d"),(0,30,5,"d")),'O':(TO,(0,30,5,"d")),'P':((0,4.5,0.5,"P"),(0,120000,20000,"d"))}
P_XTICKS = ["0","1","1","2","2","3","3","4","4","5"]

# series draw order and styles
STYLE = {
 'tri':dict(symbol="triangle-up",size=12,color="#000000"),
 'sq':dict(symbol="square",size=9.5,color="#000000"),
 'pl':dict(symbol="cross-thin",size=6.6,line=dict(color="#000000",width=2.8)),
 'gc':dict(symbol="circle",size=10.5,color="#6E6E6E"),
 'gx':dict(symbol="x-thin",size=7,line=dict(color="#8C8C8C",width=2.4)),
 'op':dict(symbol="cross-thin",size=8.5,line=dict(color="#FFC000",width=2.4)),
 'dx':dict(symbol="x-thin",size=11.5,line=dict(color="#BF9000",width=2.4)),
 'yt':dict(symbol="triangle-up",size=12.5,color="#FFFF00",line=dict(color="#000000",width=2.4)),
 'ys':dict(symbol="square",size=10.5,color="#FFFF00",line=dict(color="#000000",width=2.4)),
 'oc':dict(symbol="circle",size=11.5,color="#FFC000",line=dict(color="#BF8F00",width=2)),
}
STYLE['tri2'] = STYLE['tri']
ORDER = ['tri','tri2','sq','pl','gc','gx','op','dx','yt','ys','oc']

# texts: panel letter positions and notes, reference pixels (left, centre y)
LETTERS = {'A':(316,109),'B':(1326,95),'C':(2376,88),'D':(3372,87),'E':(329,955),'F':(1335,957),'G':(2364,965),'H':(3372,958),
           'I':(365,1818),'J':(1343,1795),'K':(2344,1812),'L':(3363,1816),'M':(317,2656),'N':(1350,2662),'O':(2365,2660),'P':(3392,2660)}
NOTES = [
 (693,579,"Strong relationship reflecting<br>predominantly zircon affinity"),
 (1613,389,"Zircon and other HM affinity for Th"),
 (2484,570,"Zircon and other HM affinity for U"),
 (3356,366,"Th and U likely to occur<br>in the same HM"),
 (275,1359,"Higher Nb/TiO₂ in all<br>parts of the<br>stratigraphy at other<br>wells"),
 (538,1542,"Multi-mineral affinities, lower Nb/TiO₂<br>at Kupe South-4 and Kapuni-13"),
 (1292,1267,"Multi-mineral affinities likely<br>relating to the different Ti-<br>bearing HM"),
 (2566,991,"Clear indication for multi-mineral<br>affinities relating to different Ti-bearing<br>minerals; higher TiO₂/Ta at Kupe<br>South-4 may partly reflect Ti in clay<br>minerals (e.g., biotite)"),
 (2303,1180,"Kupe South-4;<br>consistent<br>response in all<br>stratigraphy<br>suggesting<br>consistent source<br>Ta associated with<br>Ca-plagioclase??"),
 (2647,1364,"Other<br>wells"),
 (3311,1236,"Kupe South-4; Ta<br>and Th associated<br>with Ca-<br>plagioclase??"),
 (3677,1360,"Other<br>wells"),
 (445,2175,"Other<br>wells"),
 (1585,2119,"Multi-mineral associations;<br>generally lower Cr in older strata<br>and mud/silt lithologies (not<br>related to well location)"),
 (2378,2004,"High Mn in older strata (not<br>related to well location) possibly<br>related to clays and/or HM"),
 (2789,2263,"High Cr in younger strata possibly<br>related to relative enrichment of<br>ultrastable tourmaline and stable<br>ilmenite"),
 (3501,2142,"High Be in older strata possibly<br>related to clays"),
 (453,3249,"Possible Cr-V related to relative<br>concentration of tourmaline or<br>resistant Ti-minerals"),
 (1637,3054,"Strong relationship reflecting<br>relative abundance of HM"),
 (2762,3237,"Possible higher relative<br>concentration of stable/ultrastable<br>Ti-HM (e.g.,  ilmenite, leuxoene,<br>rutile) in younger strata"),
 (3846,3158,"Elevated Ba only in<br>samples from<br>Turangi-3 and<br>Kowhai-A1R; positive<br>Eu anomaly in these<br>wells may therefore<br>be due to drilling fluid<br>contamination"),
]
ROTATED = [(2535,1407,"Kapuni-13",-65),(3547,1399,"Kapuni- 13",-65),(316,2141,"Kupe South-4",-70),(492,2090,"Kapuni-13",-62)]

fig = go.Figure()
layout = {}
g = globals()
for i, p in enumerate(BOX, start=1):
    l, r, t, b = BOX[p]
    xn, yn = f"x{i}", f"y{i}"
    for s in ORDER:
        pts = g.get(f"{p}_{s}", [])
        if not pts:
            continue
        fig.add_trace(go.Scatter(x=[a for a, _ in pts], y=[c for _, c in pts], xaxis=xn, yaxis=yn, mode="markers",
                                 marker=STYLE[s], showlegend=False, cliponaxis=False, hoverinfo="skip"))
    for seg in g.get(f"{p}_lines", []):
        fig.add_trace(go.Scatter(x=[a for a, _ in seg], y=[c for _, c in seg], xaxis=xn, yaxis=yn, mode="lines",
                                 line=dict(color="#7F7F7F", width=3, dash="dash"), showlegend=False, hoverinfo="skip"))
    common = dict(showline=True, mirror=True, linecolor="#000000", linewidth=2, ticks="outside", ticklen=8, tickwidth=2,
                  tickcolor="#000000", showgrid=False, zeroline=False, automargin=False,
                  tickfont=dict(family=FONT, size=23, color="#000000"))
    def axis(spec, title, dom, anchor, standoff):
        d = dict(common, domain=dom, anchor=anchor)
        if title:
            d["title"] = dict(text=title, font=dict(family=FONT, size=24.5, color="#000000"), standoff=standoff)
        if spec == LOG:
            d.update(type="log", range=[-1, 1], tickmode="array", tickvals=[0.1, 1, 10], ticktext=["0.1", "1.0", "10.0"])
        else:
            lo, hi, step, fmt = spec
            d.update(range=[lo, hi])
            if fmt == "P":
                d.update(tickmode="array", tickvals=[k * step for k in range(10)], ticktext=P_XTICKS)
            else:
                d.update(tick0=lo, dtick=step, tickformat=fmt)
        return d
    xs, ys = AXES[p]
    layout[f"xaxis{i}"] = axis(xs, TITLES[p][0], [l / REFW, r / REFW], yn, 11)
    layout[f"yaxis{i}"] = axis(ys, TITLES[p][1], [1 - b / REFH, 1 - t / REFH], xn, 30)

ann = []
for p, (x, y) in LETTERS.items():
    ann.append(dict(x=x / REFW, y=1 - y / REFH, xref="paper", yref="paper", text=f"<b>{p})</b>", showarrow=False,
                    xanchor="left", yanchor="middle", font=dict(family=FONT, size=24, color="#000000")))
for x, y, txt in NOTES:
    ann.append(dict(x=x / REFW, y=1 - y / REFH, xref="paper", yref="paper", text=txt, showarrow=False, align="left",
                    xanchor="left", yanchor="middle", font=dict(family=FONT, size=20.5, color="#000000")))
for x, y, txt, ang in ROTATED:
    ann.append(dict(x=x / REFW, y=1 - y / REFH, xref="paper", yref="paper", text=txt, showarrow=False, textangle=ang,
                    xanchor="center", yanchor="middle", font=dict(family=FONT, size=20.5, color="#000000")))

shapes = [dict(type="line", xref="paper", yref="paper", x0=4214.5 / REFW, x1=4214.5 / REFW, y0=0, y1=1, line=dict(color="#000000", width=3)),
          dict(type="line", xref="paper", yref="paper", x0=22 / REFW, x1=130 / REFW, y0=0.0006, y1=0.0006, line=dict(color="#AAAAAA", width=1.5))]

fig.update_layout(width=W, height=H, margin=dict(l=0, r=0, t=0, b=0, autoexpand=False), paper_bgcolor="#FFFFFF", plot_bgcolor="#FFFFFF",
                  showlegend=False, annotations=ann, shapes=shapes, **layout)
fig.write_html("out.html", config=dict(displayModeBar=False),
               post_script="document.body.style.margin='0';document.documentElement.style.overflow='hidden';")
